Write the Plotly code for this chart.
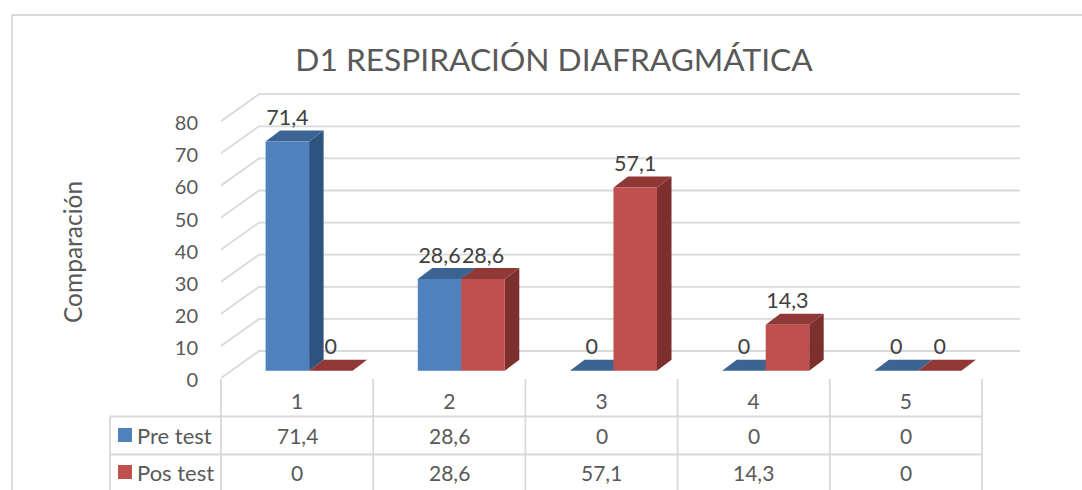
import plotly.graph_objects as go

categories = [1, 2, 3, 4, 5]
pre_test = [71.4, 28.6, 0, 0, 0]
pos_test = [0, 28.6, 57.1, 14.3, 0]
y_ticks = [0, 10, 20, 30, 40, 50, 60, 70, 80]
series_names = ["Pre test", "Pos test"]

W, H = 1082, 490
X0, X1, Y0, Y1 = 221, 1022, 378, 90      # plot area in pixels
PX_CAT, PX_VAL = 152.2, 3.21             # pixels per category / per unit
GREY, TXT, FONT = "#D9D9D9", "#595959", "Lato"

def px(x):  # pixel -> paper
    return (x - X0) / (X1 - X0)
def py(y):
    return (Y0 - y) / (Y0 - Y1)

WALL_DX, WALL_DY = 38 / PX_CAT, 27 / PX_VAL
BAR_W = 43.5 / PX_CAT
BAR_SHIFT, BAR_BASE = 12 / PX_CAT, 7.3 / PX_VAL
DEPTH_DX, DEPTH_DY = 14.5 / PX_CAT, 11 / PX_VAL

shapes = []
def line(x0, y0, x1, y1, w=1.8):
    shapes.append(dict(type="line", xref="paper", yref="paper", x0=px(x0), x1=px(x1),
                       y0=py(y0), y1=py(y1), line=dict(color=GREY, width=w), layer="below"))

# chart frame
line(12, 15, W, 15)
line(12, 15, 12, H)

# walls: gridlines from the tick values, in data coordinates
for t in y_ticks:
    path = (f"M 0.5 {t} L {0.5 + WALL_DX} {t + WALL_DY} "
            f"L {5.5 + WALL_DX} {t + WALL_DY}")
    shapes.append(dict(type="path", xref="x", yref="y", path=path,
                       line=dict(color=GREY, width=1.8), layer="below"))

# 3D side and top faces of the bars
def polygon(pts, color):
    d = "M " + " L ".join(f"{a} {b}" for a, b in pts) + " Z"
    shapes.append(dict(type="path", xref="x", yref="y", path=d, fillcolor=color,
                       line=dict(width=0), layer="below"))

series = [(pre_test, -1, "#4F81BD", "#2F5380", "#3B6493"),
          (pos_test, 0, "#C0504D", "#7C2F2D", "#8F3836")]
bar_traces, lx, ly, lt = [], [], [], []
for (vals, off, front, side, top), name in zip(series, series_names):
    xs = []
    for c, v in zip(categories, vals):
        left = c + BAR_SHIFT + off * BAR_W
        right = left + BAR_W
        yb, yt = BAR_BASE, BAR_BASE + v
        polygon([(right, yb), (right + DEPTH_DX, yb + DEPTH_DY),
                 (right + DEPTH_DX, yt + DEPTH_DY), (right, yt)], side)
        polygon([(left, yt), (left + DEPTH_DX, yt + DEPTH_DY),
                 (right + DEPTH_DX, yt + DEPTH_DY), (right, yt)], top)
        xs.append(left + BAR_W / 2)
        lx.append(left + BAR_W / 2)
        ly.append(yt + DEPTH_DY)
        lt.append(str(v).replace(".", ","))
    bar_traces.append(go.Bar(x=xs, y=vals, base=BAR_BASE, width=BAR_W, name=name,
                             marker=dict(color=front, line=dict(width=0))))

labels = go.Scatter(x=lx, y=ly, text=lt, mode="text", textposition="top center",
                    textfont=dict(family=FONT, size=21.5, color="#404040"),
                    cliponaxis=False, showlegend=False)

# data table
T_TOP, T_MID = 416.5, 454.5
line(110, T_TOP, 982, T_TOP)
line(110, T_MID, 982, T_MID)
line(110, T_TOP, 110, H)
line(221, 379, 221, H)
for c in categories:
    xr = X0 + c * PX_CAT
    line(xr, 379, xr, H)

annotations = []
def text(x, y, s, anchor="center", size=21, angle=0):
    annotations.append(dict(x=px(x), y=py(y), xref="paper", yref="paper", text=s, showarrow=False,
                            xanchor=anchor, yanchor="middle", textangle=angle,
                            font=dict(family=FONT, size=size, color=TXT)))

rows = [(pre_test, 435, "#4F81BD"), (pos_test, 472, "#C0504D")]
for (vals, yc, col), name in zip(rows, series_names):
    shapes.append(dict(type="rect", xref="paper", yref="paper", x0=px(118), x1=px(132),
                       y0=py(yc - 7), y1=py(yc + 7), fillcolor=col, line=dict(width=0)))
    text(135, yc, name, anchor="left", size=22)
    for c, v in zip(categories, vals):
        text(X0 + (c - 0.5) * PX_CAT, yc, str(v).replace(".", ","))

text(72, 252, "Comparación", size=24.5, angle=-90)

fig = go.Figure(bar_traces + [labels])
fig.update_layout(
    width=W, height=H, margin=dict(l=X0, r=W - X1, t=Y1, b=H - Y0, pad=0),
    paper_bgcolor="white", plot_bgcolor="rgba(0,0,0,0)",
    barmode="overlay", showlegend=False, shapes=shapes, annotations=annotations,
    font=dict(family=FONT, color=TXT),
    title=dict(text="D1 RESPIRACIÓN DIAFRAGMÁTICA", x=554 / W, xanchor="center",
               y=1 - 60 / H, yanchor="middle", font=dict(family=FONT, size=31.7, color=TXT)),
    xaxis=dict(range=[0.5, 0.5 + (X1 - X0) / PX_CAT], tickvals=categories, showgrid=False,
               zeroline=False, showline=False, ticks="", ticklabelstandoff=9,
               tickfont=dict(family=FONT, size=21, color=TXT)),
    yaxis=dict(range=[0, (Y0 - Y1) / PX_VAL], tickvals=y_ticks, showgrid=False,
               zeroline=False, showline=False, ticks="", ticklabelstandoff=22,
               ticklabelshift=2,
               tickfont=dict(family=FONT, size=20, color=TXT)),
)
fig.write_html("out.html", config={"displayModeBar": False},
               post_script="document.body.style.margin='0';")
